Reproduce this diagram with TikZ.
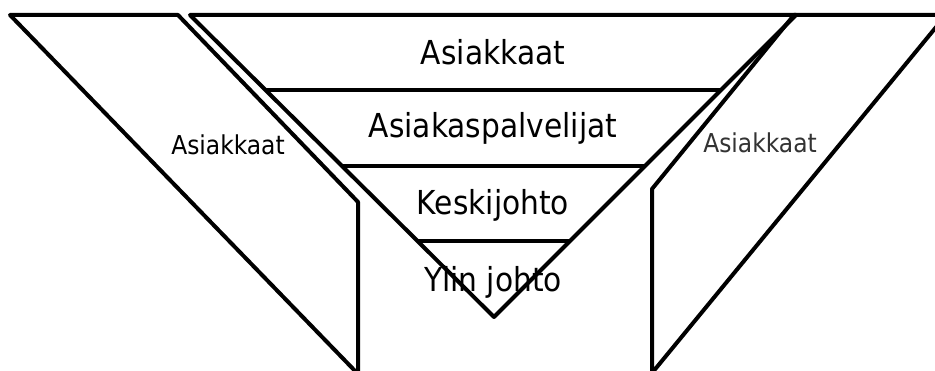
\documentclass[tikz,border=0pt]{standalone}
\usepackage{fontspec}
\setmainfont{DejaVu Sans Condensed}
\usetikzlibrary{calc}

\begin{document}
\begin{tikzpicture}[
    x=1pt, y=-1pt,
    edge/.style={draw=black, line width=4pt, line join=round},
    band/.style={font=\fontsize{33}{36}\selectfont, anchor=base, inner sep=0pt},
    side/.style={font=\fontsize{26}{28}\selectfont, anchor=base, inner sep=0pt}
]
\useasboundingbox (0,0) rectangle (935,371);
\clip (0,0) rectangle (935,371);
\fill[white] (0,0) rectangle (935,371);

% funnel
\coordinate (ftl) at (190,15);
\coordinate (ftr) at (796,15);
\coordinate (fap) at (494,317);
\draw[edge] (ftl) -- (ftr) -- (fap) -- cycle;
\foreach \t in {0.25,0.5,0.75}
    \draw[edge] ($(ftl)!\t!(fap)$) -- ($(ftr)!\t!(fap)$);

% side panels
\draw[edge] (10,15) -- (178,15) -- (358,202) -- (358,374) -- cycle;
\draw[edge] (794,15) -- (946,15) -- (652,373) -- (652,189) -- cycle;

\node[band] (top) at (493,65) {Asiakkaat};
\node[band] (staff) at (493,138) {Asiakaspalvelijat};
\node[band] (mid) at (493,215) {Keskijohto};
\node[band] (head) at (493,292) {Ylin johto};

\node[side] (lside) at (228,155) {Asiakkaat};
\node[side, text=black!80] (rside) at (760,153) {Asiakkaat};
\end{tikzpicture}
\end{document}
